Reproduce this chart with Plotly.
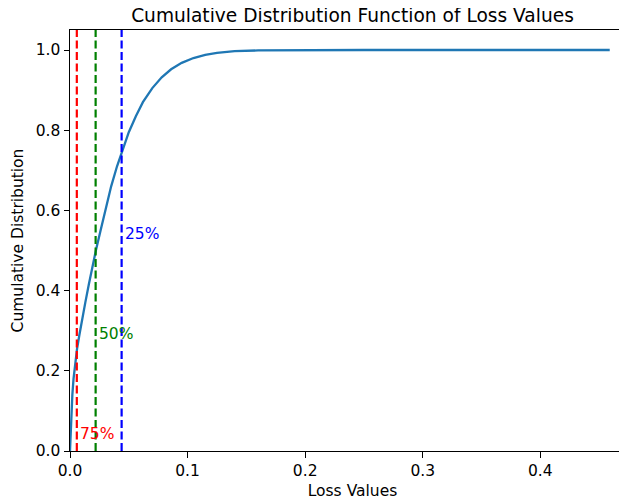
import plotly.graph_objects as go

# CDF curve
loss_values = [0, 0.0005, 0.001, 0.002, 0.003, 0.004, 0.006, 0.008, 0.010, 0.013,
               0.016, 0.019, 0.022, 0.026, 0.030, 0.035, 0.040, 0.045, 0.050, 0.056,
               0.062, 0.070, 0.078, 0.086, 0.095, 0.105, 0.115, 0.125, 0.140, 0.160,
               0.180, 0.200, 0.250, 0.300, 0.350, 0.400, 0.459]
cdf_values = [0, 0.04, 0.09, 0.14, 0.18, 0.21, 0.255, 0.29, 0.325, 0.37,
              0.415, 0.46, 0.50, 0.55, 0.60, 0.66, 0.71, 0.755, 0.795, 0.835,
              0.87, 0.905, 0.932, 0.952, 0.968, 0.980, 0.988, 0.993, 0.997, 0.999,
              0.9995, 1.0, 1.0, 1.0, 1.0, 1.0, 1.0]

# Percentile markers
pct_labels = ["75%", "50%", "25%"]
pct_x = [0.0058, 0.0218, 0.0439]
pct_text_y = [0.042, 0.292, 0.542]
pct_colors = ["#ff0000", "#008000", "#0000ff"]

FONT = "DejaVu Sans"
TICK = 15.5

fig = go.Figure()
fig.add_trace(go.Scatter(x=loss_values, y=cdf_values, mode="lines",
                         line=dict(color="#1f77b4", width=2.3), showlegend=False,
                         hoverinfo="skip"))

for lab, xv, ty, col in zip(pct_labels, pct_x, pct_text_y, pct_colors):
    fig.add_shape(type="line", x0=xv, x1=xv, y0=0, y1=1, xref="x", yref="paper",
                  line=dict(color=col, width=2.2, dash="8px,3.5px"))
    fig.add_annotation(x=xv, y=ty, xref="x", yref="y", text=lab, showarrow=False,
                       xanchor="left", yanchor="middle", xshift=1,
                       font=dict(family=FONT, size=TICK, color=col))

fig.update_layout(
    width=627, height=502,
    margin=dict(l=62, r=0, t=22, b=59),
    paper_bgcolor="white", plot_bgcolor="white",
    font=dict(family=FONT, size=TICK, color="black"),
    title=dict(text="Cumulative Distribution Function of Loss Values",
               xref="paper", x=0.5, xanchor="center",
               yref="container", y=1 - 1 / 502, yanchor="top",
               font=dict(family=FONT, size=18.6, color="black")),
    xaxis=dict(range=[0, 0.4805], tickvals=[0, 0.1, 0.2, 0.3, 0.4],
               ticktext=["0.0", "0.1", "0.2", "0.3", "0.4"],
               showgrid=False, zeroline=False, showline=True, linecolor="black",
               linewidth=1.2, mirror=True, ticks="outside", ticklen=5.4, tickwidth=1.2,
               tickcolor="black", tickfont=dict(family=FONT, size=TICK),
               title=dict(text="Loss Values", standoff=6,
                          font=dict(family=FONT, size=TICK))),
    yaxis=dict(range=[0, 1.0499], tickvals=[0, 0.2, 0.4, 0.6, 0.8, 1.0],
               ticktext=["0.0", "0.2", "0.4", "0.6", "0.8", "1.0"],
               showgrid=False, zeroline=False, showline=True, linecolor="black",
               linewidth=1.2, mirror=False, ticks="outside", ticklen=5.4, tickwidth=1.2,
               tickcolor="black", tickfont=dict(family=FONT, size=TICK),
               title=dict(text="Cumulative Distribution", standoff=8,
                          font=dict(family=FONT, size=TICK))),
)

fig.write_html("out.html")
